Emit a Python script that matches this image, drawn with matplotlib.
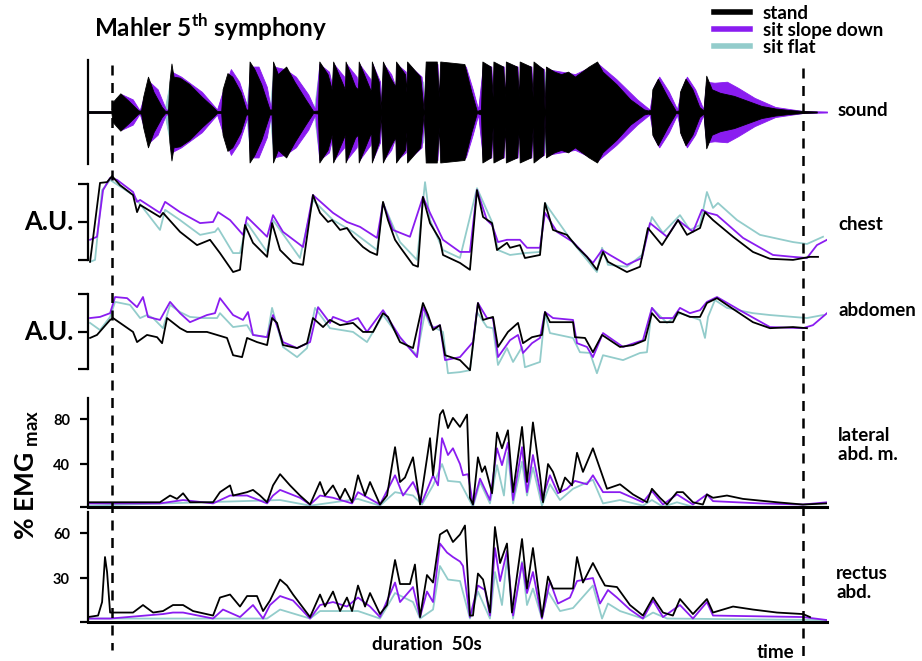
import numpy as np
import matplotlib.pyplot as plt
from matplotlib.lines import Line2D

plt.rcParams['font.family'] = ['Lato', 'DejaVu Sans']

# time in seconds, 0 = start of the excerpt, 50 = end (dashed lines)
T_START, T_END = 0, 50
XLIM = (-1.74, 51.74)

# ---- sound envelope (relative amplitude, drawn +/-)
sound_stand = [(-1.74, .02), (-.05, .02), (.05, .2), (.6, .37), (1.2, .22), (1.9, .03),
               (2.1, .03), (2.25, .3), (2.6, .7), (3.0, .4), (3.6, .1), (3.85, .02),
               (4.05, .03), (4.15, .6), (4.3, .96), (4.45, .7), (4.9, .68), (5.6, .55), (6.5, .3), (7.3, .1), (7.6, .02),
               (7.9, .02), (8.0, .45), (8.35, .77), (8.7, .7), (9.3, .4), (9.7, .05),
               (9.85, .05), (9.95, 1.0), (10.3, .85), (10.8, .55), (11.4, .05),
               (11.55, .05), (11.65, 1.0), (12.0, .75), (12.6, .9), (13.2, .6), (14.0, .25), (14.55, .02),
               (14.9, .03), (15.0, 1.0), (15.6, .75), (15.9, .45), (16.0, 1.0), (16.7, .55), (16.85, .45),
               (16.9, 1.0), (17.6, .5), (17.8, .45), (17.85, 1.0), (18.6, .5), (18.75, .4), (18.8, 1.0),
               (19.3, .6), (19.45, .05), (19.6, 1.0), (20.1, .7), (20.5, .5), (20.55, 1.0), (21.2, .75),
               (21.3, .4), (21.35, 1.0), (22.3, .7), (22.55, .03), (22.7, 1.0), (23.5, 1.0), (23.65, .3),
               (23.75, 1.0), (25.5, .95), (26.0, .4), (26.4, .02), (26.7, .05), (26.8, 1.0), (27.4, .9),
               (27.55, .3), (27.6, 1.0), (28.3, .9), (28.45, .3), (28.5, 1.0), (29.3, .9), (29.45, .3),
               (29.5, 1.0), (30.3, .9), (30.45, .3), (30.5, 1.0), (31.2, .85), (31.3, .05), (31.4, .9),
               (32.0, .8), (32.5, .75), (33.0, .8), (33.5, .7), (34.0, .8), (34.5, .9), (35.1, 1.0),
               (35.5, .8), (36.5, .55), (37.5, .25), (38.5, .05), (38.8, .03),
               (39.0, .05), (39.1, .45), (39.5, .66), (40.2, .3), (40.8, .02), (41.0, .03), (41.1, .4),
               (41.5, .66), (42.0, .45), (42.5, .1), (42.8, .03), (43.0, .72), (43.4, .45), (44.0, .38),
               (45.0, .32), (46.0, .22), (47.0, .12), (48.0, .07), (49.0, .04), (50.0, .02), (51.0, .01)]
sound_slope = [(-1.74, .01), (.1, .01), (.2, .2), (.7, .35), (1.5, .25), (2.0, .03), (2.3, .3), (2.7, .6),
               (3.3, .45), (3.9, .05), (4.1, .05), (4.3, .8), (5.0, .7), (6.5, .4), (7.6, .05), (8.0, .4),
               (8.6, .85), (9.2, .6), (9.8, .1), (10.0, .9), (10.6, .9), (11.2, .5), (11.5, .05), (11.7, .9),
               (12.5, .85), (13.3, .7), (14.2, .35), (14.7, .05), (15.0, .95), (15.7, .8), (15.95, .5),
               (16.05, .95), (16.8, .7), (16.9, .45), (16.97, .95), (17.7, .7), (17.82, .45), (17.9, .95),
               (18.7, .65), (18.78, .4), (18.85, .95), (19.4, .6), (19.5, .05), (19.65, .95), (20.2, .75),
               (20.52, .5), (20.6, .95), (21.25, .8), (21.32, .4), (21.4, .95), (22.4, .7), (22.6, .05),
               (22.75, .95), (23.55, .95), (23.67, .3), (23.8, .95), (25.6, .9), (26.1, .45), (26.5, .05),
               (26.85, .95), (27.45, .9), (27.57, .3), (27.65, .95), (28.35, .9), (28.47, .3), (28.55, .95),
               (29.35, .9), (29.47, .3), (29.55, .95), (30.35, .9), (30.47, .3), (30.55, .95), (31.25, .85),
               (31.32, .05), (31.45, .85), (32.5, .8), (33.5, .75), (34.5, .88), (35.2, .95), (36.5, .65),
               (38.0, .25), (38.9, .05), (39.2, .5), (39.6, .7), (40.3, .4), (40.9, .05), (41.2, .45),
               (41.6, .7), (42.2, .45), (42.8, .05), (43.0, .6), (43.6, .58), (44.5, .6), (45.3, .48),
               (46.5, .28), (48.0, .1), (50.0, .02), (51.74, .01)]
sound_flat = [(-1.74, .01), (.1, .01), (.3, .28), (1.2, .2), (2.0, .03), (2.7, .55), (3.8, .05), (4.3, .75),
              (6.0, .45), (7.6, .03), (8.4, .7), (9.7, .05), (10.0, .85), (11.4, .05), (11.7, .9), (13.5, .55),
              (14.6, .03), (15.0, .9), (15.9, .4), (16.0, .9), (16.85, .4), (16.95, .9), (17.8, .4),
              (17.9, .9), (18.75, .35), (18.85, .9), (19.4, .55), (19.5, .05), (19.7, .9), (20.5, .45),
              (20.6, .9), (21.3, .35), (21.4, .9), (22.5, .6), (22.6, .03), (22.8, .9), (23.65, .25),
              (23.8, .9), (26.0, .35), (26.5, .03), (26.85, .9), (27.55, .25), (27.65, .97), (28.45, .25),
              (28.55, .97), (29.45, .25), (29.55, .97), (30.45, .25), (30.55, .97), (31.3, .8), (31.4, .05),
              (31.5, .82), (33.5, .72), (35.0, .9), (37.5, .3), (38.9, .03), (39.5, .55), (40.8, .03),
              (41.5, .55), (42.8, .03), (43.0, .6), (44.0, .38), (46.0, .22), (48.0, .07), (50.0, .02),
              (51.0, .01)]

# ---- chest (A.U.)
chest_stand = [(-1.59, -.05), (-.87, 2.03), (-.36, 2.05), (0, 2.21), (.58, 1.97), (1.52, 1.71), (1.81, 1.26),
               (2.03, 1.45), (3.47, 1.13), (3.69, 1.24), (4.92, .74), (6.15, .39), (7.09, .53), (7.81, .18),
               (8.76, -.32), (9.26, -.26), (9.62, .92), (10.2, .45), (11.22, .08), (11.58, .97), (12.16, .26),
               (13.1, -.08), (13.82, -.13), (14.54, 1.71), (15.05, 1.24), (15.63, 1.0), (15.92, 1.05),
               (16.5, .79), (17.0, .84), (17.44, .61), (18.16, .34), (18.67, .21), (19.18, .13), (19.61, 1.53),
               (19.97, 1.05), (20.48, .53), (20.84, .34), (21.78, -.13), (22.14, -.18), (22.5, 1.66),
               (23.01, .97), (23.73, .53), (23.95, .13), (25.18, -.08), (25.9, -.26), (26.41, 1.84),
               (26.85, 1.13), (27.5, .97), (27.86, .26), (28.58, .45), (28.8, .32), (29.52, .39), (29.88, .05),
               (30.97, .13), (31.33, 1.5), (31.91, .79), (32.92, .66), (33.65, .34), (34.37, .08), (35.09, -.26),
               (35.53, .21), (35.89, -.05), (37.26, -.32), (38.21, -.18), (38.78, .84), (39.8, .39),
               (40.96, 1.05), (41.61, .66), (42.55, .84), (42.91, 1.26), (43.49, 1.05), (44.94, .61),
               (46.38, .21), (47.61, .03), (49.28, 0), (50.51, .08), (51.09, .08)]
chest_slope = [(-1.59, .53), (-1.09, .61), (-.65, 1.84), (-.14, 2.16), (.36, 2.11), (1.52, 1.79), (1.81, 1.53),
               (2.03, 1.58), (3.47, 1.24), (3.84, 1.53), (4.92, 1.26), (6.37, .97), (7.31, 1.0), (7.67, 1.26),
               (8.54, 1.05), (9.48, .66), (9.77, 1.13), (11.22, .61), (11.65, 1.18), (12.37, .74), (13.82, .34),
               (14.54, 1.71), (15.99, 1.24), (17.0, 1.0), (17.95, .87), (19.18, .58), (19.61, 1.5), (20.33, .79),
               (21.56, .61), (22.5, 1.66), (23.01, 1.24), (23.95, .53), (25.18, .21), (25.9, .21), (26.41, 1.84),
               (27.13, 1.05), (27.5, .92), (27.93, .47), (28.58, .53), (29.52, .53), (30.03, .32), (30.97, .32),
               (31.33, 1.24), (32.2, .74), (33.36, .47), (34.8, -.08), (35.46, .26), (36.03, .13), (37.26, -.13),
               (38.35, .05), (38.93, .97), (40.16, .61), (40.96, 1.05), (42.04, .74), (42.69, 1.32),
               (43.13, 1.24), (43.78, 1.18), (45.66, .58), (47.83, .13), (49.28, .08), (50.29, .05),
               (51.01, .39), (51.74, .53)]
chest_flat = [(-1.59, -.05), (-1.23, 0), (-.72, 1.84), (-.14, 2.11), (1.52, 1.71), (3.47, .79), (3.84, 1.32),
              (4.92, 1.05), (6.37, .66), (7.45, .74), (7.67, .84), (8.76, .18), (9.26, .18), (9.77, .97),
              (11.22, .21), (11.65, 1.05), (13.6, .05), (14.54, 1.58), (15.99, 1.05), (17.44, .74), (19.18, .26),
              (19.61, 1.5), (20.84, .47), (22.07, 0), (22.65, 2.05), (23.01, 1.05), (23.95, .26), (25.18, .05),
              (26.41, 1.89), (27.5, 1.0), (27.93, .26), (28.8, .13), (29.88, .18), (30.97, .21), (31.33, 1.5),
              (33.36, .45), (35.09, -.32), (35.46, .32), (35.89, -.13), (37.26, -.18), (38.35, .13),
              (39.07, 1.13), (39.87, .71), (41.1, 1.18), (41.82, .79), (42.55, .92), (43.05, 1.79),
              (43.49, 1.37), (43.85, 1.5), (45.23, 1.05), (46.89, .66), (49.28, .47), (50.29, .42), (51.45, .61)]

# ---- abdomen (A.U.)
abd_stand = [(-1.59, .83), (-1.09, .91), (-.14, 1.31), (.07, 1.36), (.58, 1.23), (1.52, .99), (1.81, .72),
             (2.53, .91), (3.26, .85), (3.62, .69), (3.98, 1.36), (4.92, 1.09), (5.43, .99), (6.87, .99),
             (8.32, .83), (8.76, .37), (9.41, .32), (9.77, .83), (10.49, .72), (11.22, .64), (11.58, 1.36),
             (11.94, 1.23), (12.37, .64), (13.39, .56), (14.11, .69), (14.54, 1.36), (15.27, 1.12), (15.77, 1.31),
             (16.5, 1.17), (17.44, 1.23), (18.16, .99), (18.89, .99), (19.61, 1.49), (19.97, 1.39), (20.84, .72),
             (21.78, .56), (22.5, 1.76), (22.87, 1.44), (23.23, 1.04), (23.73, 1.17), (24.1, .37), (25.18, .24),
             (25.9, -.03), (26.48, 1.76), (26.85, 1.31), (27.57, 1.39), (27.93, .59), (28.65, .99), (29.38, 1.23),
             (29.74, .69), (30.39, .85), (31.11, .91), (31.33, 1.52), (31.69, 1.25), (33.36, 1.25), (33.5, .85),
             (34.23, .83), (34.8, .45), (35.46, .91), (36.76, .59), (37.7, .64), (38.57, .77), (39.07, 1.49),
             (39.65, 1.25), (40.59, 1.25), (40.96, 1.52), (41.82, 1.39), (42.55, 1.39), (43.05, 1.76),
             (43.78, 1.89), (44.5, 1.71), (46.38, 1.25), (47.61, 1.09), (49.28, 1.12), (50.29, 1.09)]
abd_slope = [(-1.59, 1.36), (-.87, 1.39), (-.14, 1.49), (.22, 1.92), (1.09, 1.89), (1.81, 1.65), (2.24, 1.92),
             (2.6, 1.39), (3.47, 1.31), (4.2, 1.79), (4.92, 1.49), (5.64, 1.25), (6.87, 1.44), (7.45, 1.49),
             (7.81, 1.89), (8.76, 1.44), (9.48, 1.31), (9.84, 1.52), (10.2, .91), (11.22, .85), (11.65, 1.44),
             (12.37, .72), (13.39, .56), (14.33, .72), (14.91, 1.65), (15.77, 1.23), (15.99, 1.39), (17.0, 1.25),
             (17.8, 1.36), (18.45, .99), (19.61, 1.57), (20.84, .85), (22.07, .32), (22.5, 1.65), (23.23, 1.09),
             (23.73, 1.17), (24.1, .24), (25.18, .32), (26.12, .72), (26.48, 1.76), (27.13, 1.36), (27.57, 1.36),
             (27.93, .32), (28.8, .77), (29.38, .91), (29.74, .43), (30.39, .69), (30.97, .83), (31.33, 1.52),
             (31.91, 1.36), (33.36, 1.31), (33.65, .69), (34.37, .59), (34.8, .32), (35.53, .96), (36.98, .59),
             (38.42, .77), (39.07, 1.63), (39.65, 1.36), (40.59, 1.36), (41.1, 1.63), (41.82, 1.49),
             (42.55, 1.57), (43.05, 1.79), (43.78, 1.92), (45.66, 1.52), (47.61, 1.12), (50.0, 1.09),
             (50.72, 1.17), (51.74, 1.49)]
abd_flat = [(-1.59, 1.23), (-.87, 1.04), (-.14, 1.39), (.22, 1.79), (1.3, 1.71), (2.03, 1.36), (2.53, 1.44),
            (2.97, 1.36), (3.69, 1.09), (4.2, 1.71), (4.92, 1.52), (5.64, 1.39), (6.58, 1.36), (7.6, 1.36),
            (7.81, 1.49), (8.76, 1.12), (9.77, 1.17), (10.2, .91), (11.22, .85), (11.58, 1.63), (12.37, .59),
            (13.39, .32), (14.11, .56), (14.69, 1.63), (15.77, 1.09), (17.44, .99), (18.45, .72), (19.61, 1.44),
            (20.84, .83), (22.07, .37), (22.65, 1.52), (23.01, 1.17), (23.95, .99), (24.31, -.11), (25.18, -.08),
            (25.9, -.03), (26.41, 1.52), (27.13, 1.12), (27.57, 1.09), (27.93, .11), (28.58, .56), (29.02, .19),
            (29.67, .59), (29.88, .05), (30.97, .19), (31.33, 1.49), (31.69, .96), (33.36, .83), (33.86, .45),
            (34.59, .43), (35.09, -.11), (35.53, .37), (36.98, .24), (38.21, .43), (38.71, .45), (39.07, 1.63),
            (40.16, 1.23), (41.1, 1.49), (42.55, 1.31), (42.91, .83), (43.13, 1.39), (43.63, 1.84),
            (44.5, 1.63), (46.38, 1.49), (47.61, 1.44), (50.29, 1.36), (51.45, 1.44)]

# ---- lateral abdominal muscles (% EMG max)
lat_stand = [(-1.74, 6), (3.47, 6), (4.2, 12), (4.7, 9), (5.14, 14), (5.64, 6), (7.31, 6), (7.81, 15),
             (8.54, 21), (8.76, 12), (9.77, 15), (10.2, 17), (10.71, 12), (11.22, 6), (11.65, 21), (12.16, 31),
             (12.88, 21), (13.6, 12), (14.33, 4), (15.05, 24), (15.41, 12), (15.99, 21), (16.5, 9), (16.86, 18),
             (17.37, 6), (17.8, 30), (18.31, 12), (18.67, 24), (19.39, 4), (19.9, 12), (20.48, 55), (20.84, 24),
             (21.2, 28), (21.78, 46), (22.29, 4), (23.01, 63), (23.23, 30), (23.73, 84), (23.95, 88), (24.31, 72),
             (24.67, 81), (25.18, 73), (25.69, 84), (25.9, 10), (26.12, 4), (26.48, 46), (26.77, 33), (26.99, 38),
             (27.5, 14), (27.86, 68), (28.22, 54), (28.65, 70), (29.02, 15), (29.67, 73), (30.03, 24),
             (30.46, 77), (30.97, 30), (31.19, 6), (31.55, 40), (31.91, 33), (32.42, 15), (32.78, 28),
             (33.29, 21), (33.65, 50), (34.08, 33), (34.8, 54), (35.31, 36), (35.82, 18), (36.76, 22),
             (37.7, 13), (38.71, 6), (39.07, 18), (39.65, 10), (40.16, 4), (40.88, 15), (41.32, 15), (42.04, 6),
             (42.76, 4), (43.05, 13), (43.49, 10), (44.5, 12), (45.66, 9), (48.12, 6), (50.0, 4), (51.74, 5)]
lat_slope = [(-1.74, 5), (3.47, 5), (5.14, 8), (7.31, 5), (8.54, 12), (9.77, 12), (11.22, 5), (11.65, 12),
             (12.16, 17), (13.6, 10), (14.33, 4), (15.05, 12), (15.99, 10), (17.37, 5), (17.8, 15), (19.39, 4),
             (20.48, 30), (21.06, 12), (21.78, 24), (22.43, 6), (23.23, 30), (23.59, 21), (23.88, 63),
             (24.31, 48), (24.67, 54), (25.18, 40), (25.4, 30), (25.76, 31), (26.12, 4), (26.63, 27), (27.35, 8),
             (27.86, 54), (28.22, 39), (28.65, 59), (29.02, 8), (29.67, 55), (30.03, 15), (30.46, 48),
             (31.11, 8), (31.69, 30), (32.27, 14), (32.92, 18), (33.5, 25), (34.37, 22), (34.8, 30), (35.53, 15),
             (36.76, 15), (38.42, 6), (39.07, 16), (39.87, 4), (40.88, 13), (42.04, 4), (43.05, 13), (43.49, 7),
             (46.89, 5), (50.0, 4), (51.74, 6)]
lat_flat = [(-1.74, 3), (12.16, 8), (14.33, 3), (17.8, 9), (19.39, 3), (20.48, 15), (21.78, 12), (22.43, 4),
            (23.23, 21), (23.88, 40), (24.31, 25), (25.18, 24), (26.12, 2), (26.63, 24), (27.35, 5), (27.86, 39),
            (28.36, 12), (28.65, 50), (29.02, 5), (29.67, 42), (30.03, 12), (30.46, 37), (31.11, 3), (31.69, 22),
            (32.42, 8), (33.36, 18), (34.8, 26), (35.53, 5), (36.76, 8), (38.42, 3), (39.07, 8), (39.87, 2),
            (40.88, 6), (42.04, 2), (51.74, 2)]

# ---- rectus abdominis (% EMG max)
rect_stand = [(-1.74, 4), (-1.01, 5), (-.72, 14), (-.51, 44), (-.36, 34), (-.14, 7), (1.52, 7), (2.24, 12),
              (2.97, 7), (3.69, 8), (4.41, 12), (5.14, 12), (5.86, 8), (7.31, 5), (7.81, 17), (8.54, 19),
              (9.26, 11), (9.77, 18), (10.49, 18), (10.93, 8), (11.43, 15), (12.16, 29), (12.66, 25), (13.1, 19),
              (14.33, 4), (15.05, 19), (15.41, 11), (15.99, 21), (16.5, 8), (17.0, 17), (17.37, 8), (17.8, 25),
              (18.31, 11), (18.67, 20), (19.39, 6), (19.9, 12), (20.48, 42), (20.84, 26), (21.56, 26),
              (21.92, 39), (22.29, 4), (22.79, 32), (23.23, 27), (23.73, 59), (24.24, 62), (24.67, 54),
              (25.18, 59), (25.54, 65), (25.9, 5), (26.12, 5), (26.48, 33), (26.85, 29), (27.35, 7), (27.71, 64),
              (28.08, 40), (28.58, 53), (28.94, 7), (29.67, 56), (30.03, 23), (30.46, 50), (31.11, 4),
              (31.55, 31), (31.91, 23), (32.63, 23), (33.36, 23), (33.65, 44), (34.08, 27), (34.8, 40),
              (35.31, 31), (35.67, 25), (36.54, 24), (37.48, 12), (38.42, 5), (39.15, 17), (39.87, 7),
              (40.59, 5), (41.1, 16), (42.04, 6), (43.05, 16), (43.49, 7), (44.94, 11), (46.38, 9), (48.12, 7),
              (50.0, 6), (50.51, 4)]
rect_slope = [(-1.74, 3), (-.14, 3), (3.69, 6), (4.41, 7), (5.14, 7), (7.31, 3), (8.03, 9), (9.26, 4),
              (10.2, 12), (10.93, 3), (11.43, 12), (12.16, 18), (13.1, 15), (14.33, 3), (15.05, 12), (15.99, 14),
              (17.0, 11), (17.8, 17), (18.67, 11), (19.39, 4), (20.48, 27), (20.84, 14), (21.78, 24), (22.29, 4),
              (22.79, 21), (23.23, 14), (23.73, 53), (24.24, 47), (24.67, 44), (25.18, 41), (25.4, 38),
              (25.9, 4), (26.48, 25), (26.99, 22), (27.35, 5), (27.71, 50), (28.08, 28), (28.58, 48), (29.02, 5),
              (29.67, 40), (30.03, 20), (30.46, 34), (31.11, 3), (31.69, 28), (32.27, 13), (33.14, 17),
              (33.65, 28), (34.8, 30), (35.31, 13), (35.89, 22), (36.54, 17), (37.48, 9), (38.42, 3),
              (39.15, 15), (39.87, 4), (41.1, 12), (42.04, 3), (43.05, 14), (43.49, 5), (50.0, 4), (51.74, 2)]
rect_flat = [(-1.74, 3), (11.22, 3), (12.16, 9), (12.88, 7), (14.33, 3), (15.05, 8), (17.8, 8), (19.39, 3),
             (20.48, 20), (21.78, 14), (22.29, 3), (23.23, 9), (23.73, 38), (24.31, 29), (25.18, 28), (25.9, 3),
             (26.48, 21), (27.35, 3), (27.71, 34), (28.22, 12), (28.58, 43), (29.02, 3), (29.67, 41), (30.03, 12),
             (30.46, 23), (31.11, 3), (31.55, 21), (32.42, 8), (33.36, 10), (34.8, 25), (35.46, 3), (35.89, 13),
             (36.76, 8), (38.42, 3), (39.15, 7), (40.16, 3), (51.74, 2)]

labels = ['stand', 'sit slope down', 'sit flat']
colors = ['black', '#8a1cf0', '#93cccb']

W, H = 922, 661
fig = plt.figure(figsize=(W / 100, H / 100), dpi=100)
L, R = 88, 827


def panel(top, bot):
    ax = fig.add_axes([L / W, 1 - bot / H, (R - L) / W, (bot - top) / H])
    ax.set_xlim(*XLIM)
    ax.patch.set_alpha(0)
    for s in ['top', 'right']:
        ax.spines[s].set_visible(False)
    ax.spines['left'].set_linewidth(1.6)
    ax.tick_params(axis='x', length=0, labelbottom=False)
    return ax


def trace(ax, series):
    # draw flat first, then slope, stand on top
    for data, c in zip(series[::-1], colors[::-1]):
        d = np.array(data)
        ax.plot(d[:, 0], d[:, 1], color=c, lw=1.3, solid_joinstyle='round')


# sound
ax_s = panel(60, 164)
ax_s.set_ylim(-1.03, 1.03)
ax_s.spines['bottom'].set_visible(False)
ax_s.set_yticks([])
for data, c in zip([sound_flat, sound_slope, sound_stand], colors[::-1]):
    d = np.array(data)
    ax_s.fill_between(d[:, 0], -d[:, 1], d[:, 1], color=c, lw=0.6, edgecolor=c)

# chest
ax_c = panel(170, 280)
ax_c.set_ylim(-0.53, 2.37)
ax_c.spines['bottom'].set_visible(False)
ax_c.spines['left'].set_bounds(0, 2)
ax_c.set_yticks([0, 1, 2])
ax_c.tick_params(axis='y', length=7, width=1.6, labelleft=False)
trace(ax_c, [chest_stand, chest_slope, chest_flat])

# abdomen
ax_a = panel(285, 380)
ax_a.set_ylim(-0.29, 2.24)
ax_a.spines['bottom'].set_visible(False)
ax_a.spines['left'].set_bounds(0, 2)
ax_a.set_yticks([0, 1, 2])
ax_a.tick_params(axis='y', length=7, width=1.6, labelleft=False)
trace(ax_a, [abd_stand, abd_slope, abd_flat])

# lateral abd. m.
ax_l = panel(398, 507)
ax_l.set_ylim(1.8, 98.7)
ax_l.spines['bottom'].set_linewidth(2.2)
ax_l.set_yticks([1.8, 40, 80])
ax_l.set_yticklabels(['', '40', '80'], fontsize=10.5, fontweight='bold')
ax_l.tick_params(axis='y', length=6, width=1.6, pad=7)
trace(ax_l, [lat_stand, lat_slope, lat_flat])

# rectus abd.
ax_r = panel(512, 622)
ax_r.set_ylim(0.7, 74)
ax_r.spines['bottom'].set_linewidth(2.2)
ax_r.set_yticks([0.7, 30, 60])
ax_r.set_yticklabels(['', '30', '60'], fontsize=10.5, fontweight='bold')
ax_r.tick_params(axis='y', length=6, width=1.6, pad=7)
trace(ax_r, [rect_stand, rect_slope, rect_flat])

# dashed start / end markers across all panels
ov = fig.add_axes([L / W, 0, (R - L) / W, 1])
ov.set_xlim(*XLIM)
ov.set_ylim(H, 0)
ov.axis('off')
ov.plot([T_START, T_START], [65, 650], color='black', lw=1.8, ls=(0, (4, 3)))
ov.plot([T_END, T_END], [68, 656], color='black', lw=1.8, ls=(0, (4, 3)))


def txt(x, y, s, **kw):
    kw.setdefault('fontweight', 'bold')
    fig.text(x / W, 1 - y / H, s, va='center', **kw)


txt(94, 27, r'Mahler 5$^{\mathregular{th}}$ symphony', fontsize=17.5)
txt(838, 110, 'sound', fontsize=13.5)
txt(838, 225, 'chest', fontsize=13.5)
txt(838, 311, 'abdomen', fontsize=13.5)
txt(838, 445, 'lateral\nabd. m.', fontsize=13.5, linespacing=1.2)
txt(836, 583, 'rectus\nabd.', fontsize=13.5, linespacing=1.2)
txt(24, 222, 'A.U.', fontsize=18.5)
txt(24, 332, 'A.U.', fontsize=18.5)
txt(27, 475, r'% EMG $_{\mathregular{max}}$', fontsize=19, rotation=90, ha='center')
txt(372, 644, 'duration  50s', fontsize=13.5)
txt(757, 652, 'time', fontsize=13.5)

handles = [Line2D([], [], color=c, lw=4) for c in colors]
fig.legend(handles, labels, loc='upper left', bbox_to_anchor=(712 / W, 1 - 3 / H),
           frameon=False, prop={'weight': 'bold', 'size': 13.5}, handlelength=1.9,
           handletextpad=0.7, labelspacing=0.0, borderaxespad=0, borderpad=0.1)

fig.savefig('out.png', dpi=100)
